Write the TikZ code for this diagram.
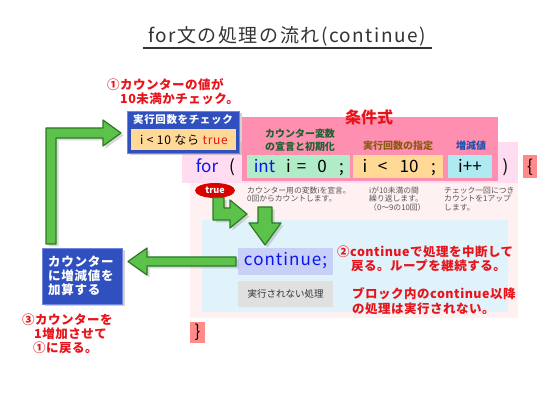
\documentclass[tikz,border=0pt]{standalone}
\usepackage{fontspec}
\setmainfont{Noto Sans CJK JP}
\newfontfamily\jp{Noto Sans CJK JP}
\newfontfamily\jpsp[LetterSpace=8]{Noto Sans CJK JP}
\newfontfamily\jpred[LetterSpace=4]{Noto Sans CJK JP}
\newfontfamily\jpbox[LetterSpace=6]{Noto Sans CJK JP}
\usetikzlibrary{shapes.geometric,shadows}
\newcommand{\myfs}[1]{\fontsize{#1}{#1}\selectfont}
\definecolor{titlegray}{HTML}{333333}
\definecolor{annred}{HTML}{E8141C}
\definecolor{boxblue}{HTML}{3050C0}
\definecolor{boxedge}{HTML}{6F86E0}
\definecolor{pinkrow}{HTML}{FFDCF0}
\definecolor{condpink}{HTML}{FF8FB0}
\definecolor{bodypink}{HTML}{FFF0F2}
\definecolor{bodyblue}{HTML}{E0F2FA}
\definecolor{intgreen}{HTML}{B0ECC8}
\definecolor{condorange}{HTML}{FFD995}
\definecolor{inccyan}{HTML}{AEEAF2}
\definecolor{contblue}{HTML}{C8D0F8}
\definecolor{skipgray}{HTML}{E0E0E0}
\definecolor{bracered}{HTML}{FF8A8A}
\definecolor{lblgreen}{HTML}{206030}
\definecolor{lblbrown}{HTML}{8A5A10}
\definecolor{lblblue}{HTML}{2050B0}
\definecolor{notegray}{HTML}{555555}
\definecolor{arrgreen}{HTML}{5CC24B}
\definecolor{arrdark}{HTML}{2B7A22}
\definecolor{codeblue}{HTML}{0A14F0}
\tikzset{
  plainbox/.style={draw=none, inner sep=0pt, outer sep=0pt},
  bluebox/.style={plainbox, fill=boxblue, draw=boxedge, line width=0.8pt,
    drop shadow={shadow xshift=2.5pt, shadow yshift=-2.5pt, opacity=0.35}},
  tok/.style={inner sep=0pt, anchor=base, font=\jp\myfs{17}},
  ann/.style={inner sep=0pt, anchor=west, align=left, text=annred, font=\jpred\bfseries\myfs{12.5}},
  note/.style={inner sep=0pt, anchor=west, align=left, text=notegray, font=\jp\fontsize{7.8}{8.7}\selectfont},
  lbl/.style={inner sep=0pt, align=center, font=\jp\bfseries\fontsize{10}{13.5}\selectfont},
  blockarrow/.style={fill=arrgreen, draw=arrdark, line width=1.2pt, line join=round,
    drop shadow={shadow xshift=2.5pt, shadow yshift=-2.5pt, opacity=0.3}}
}
\begin{document}
\begin{tikzpicture}[x=1pt,y=-1pt]
\useasboundingbox (0,0) rectangle (550,403);
\fill[white] (0,0) rectangle (550,403);

% title
\node[inner sep=0pt, text=titlegray, font=\jpsp\myfs{19}] (title) at (287,36) {for文の処理の流れ(continue)};
\draw[titlegray, line width=1.4pt] (143,48) -- (432,48);

% background regions
\fill[pinkrow] (182,142) rectangle (518,183);
\fill[bodypink] (190,183) rectangle (518,318);
\fill[bodyblue] (202,220) rectangle (508,312);
\node[plainbox, fill=condpink, minimum width=256pt, minimum height=64pt] (cond) at (370,149) {};
\node[inner sep=0pt, text=annred, font=\jp\bfseries\myfs{16}] (condlbl) at (369,117) {条件式};

% code boxes
\node[plainbox, fill=intgreen, minimum width=103pt, minimum height=23pt] (intbox) at (298.5,166.5) {};
\node[plainbox, fill=condorange, minimum width=90pt, minimum height=23pt] (cmpbox) at (398,166.5) {};
\node[plainbox, fill=inccyan, minimum width=44pt, minimum height=23pt] (incbox) at (470,166.5) {};
\node[plainbox, fill=bracered, minimum width=14pt, minimum height=23pt] (obrbox) at (530,166.5) {};
\node[plainbox, fill=bracered, minimum width=15pt, minimum height=21pt] (cbrbox) at (197.5,332.5) {};

% code tokens
\node[tok, text=codeblue] (tfor) at (207,173) {for};
\node[tok] (tpar) at (232,173) {(};
\node[tok, text=codeblue] (tint) at (264.5,173) {int};
\node[tok] (ti1) at (288.5,173) {i};
\node[tok] (teq) at (301.5,173) {=};
\node[tok] (tzero) at (322,173) {0};
\node[tok] (tsc1) at (341.5,173) {;};
\node[tok] (ti2) at (365,173) {i};
\node[tok] (tlt) at (382.5,173) {<};
\node[tok] (tten) at (409,173) {10};
\node[tok] (tsc2) at (433.5,173) {;};
\node[tok] (tinc) at (470,173) {i++};
\node[tok] (tcpar) at (505.5,173) {)};
\node[tok] (tobr) at (530,173) {\{};
\node[tok] (tcbr) at (197.5,338) {\}};

% labels over code
\node[lbl, text=lblgreen] (lblint) at (300,140) {カウンター変数\\の宣言と初期化};
\node[lbl, text=lblbrown] (lblcmp) at (398,146) {実行回数の指定};
\node[lbl, text=lblblue] (lblinc) at (471,146) {増減値};

% notes
\node[note] (note1) at (247,194.5) {カウンター用の変数iを宣言。\\0回からカウントします。};
\node[note] (note2) at (369,199) {iが10未満の間\\繰り返します。\\（0～9の10回）};
\node[note] (note3) at (444,199) {チェック一回につき\\カウントを1アップ\\します。};

% check box
\node[bluebox, minimum width=112pt, minimum height=42pt] (chk) at (183.5,132) {};
\node[plainbox, fill=condorange, minimum width=105pt, minimum height=21pt] (chkin) at (183,139.5) {};
\node[inner sep=0pt, text=white, font=\jpbox\bfseries\myfs{10.5}] (chkhead) at (183,120) {実行回数をチェック};
\node[inner sep=0pt, font=\jpbox\myfs{12}] (chktext) at (184,140) {i < 10 なら \textcolor{annred}{true}};

% add box
\node[bluebox, minimum width=80pt, minimum height=56pt] (addbox) at (82,276) {};
\node[inner sep=0pt, anchor=west, align=left, text=white, font=\jpbox\bfseries\fontsize{12.5}{14}\selectfont] (addtext) at (48,276) {カウンター\\に増減値を\\加算する};

% true ellipse
\node[ellipse, fill=red!85!black, minimum width=40pt, minimum height=15pt, inner sep=0pt,
  text=white, font=\jp\bfseries\myfs{9}] (true) at (215,190.5) {true};

% continue and skipped boxes
\node[plainbox, fill=contblue, minimum width=95pt, minimum height=27pt] (cont) at (285.5,261.5) {};
\node[inner sep=0pt, text=codeblue, font=\jpbox\myfs{17}] (conttext) at (285.5,261) {continue;};
\node[plainbox, fill=skipgray, minimum width=95pt, minimum height=26pt, text=titlegray,
  font=\jp\myfs{9.5}] (skip) at (285.5,294) {実行されない処理};

% annotations
\node[ann] (ann1a) at (107,85) {①カウンターの値が};
\node[ann] (ann1b) at (120,99) {10未満かチェック。};
\node[ann] (ann2a) at (337,252) {②continueで処理を中断して};
\node[ann] (ann2b) at (351,266) {戻る。ループを継続する。};
\node[ann] (ann2c) at (352,294) {ブロック内のcontinue以降};
\node[ann] (ann2d) at (352,309) {の処理は実行されない。};
\node[ann] (ann3a) at (22,320) {③カウンターを};
\node[ann] (ann3b) at (34,334) {1増加させて};
\node[ann] (ann3c) at (33,348) {①に戻る。};

% green block arrows
\draw[blockarrow] (46,244) -- (46,128) -- (103,128) -- (103,120) -- (121,133) -- (103,146)
  -- (103,138) -- (56,138) -- (56,244) -- cycle;
\draw[blockarrow] (236,257) -- (147,257) -- (147,248) -- (128,261.5) -- (147,275)
  -- (147,266) -- (236,266) -- cycle;
\draw[blockarrow] (258,207) -- (272,207) -- (272,223) -- (281,223) -- (265,245)
  -- (249,223) -- (258,223) -- cycle;
\draw[blockarrow] (213,197.5) -- (213,220) -- (230,220) -- (230,228)
  -- (247,214) -- (230,200) -- (230,208) -- (224,208) -- (224,197.5) -- cycle;
\end{tikzpicture}
\end{document}
